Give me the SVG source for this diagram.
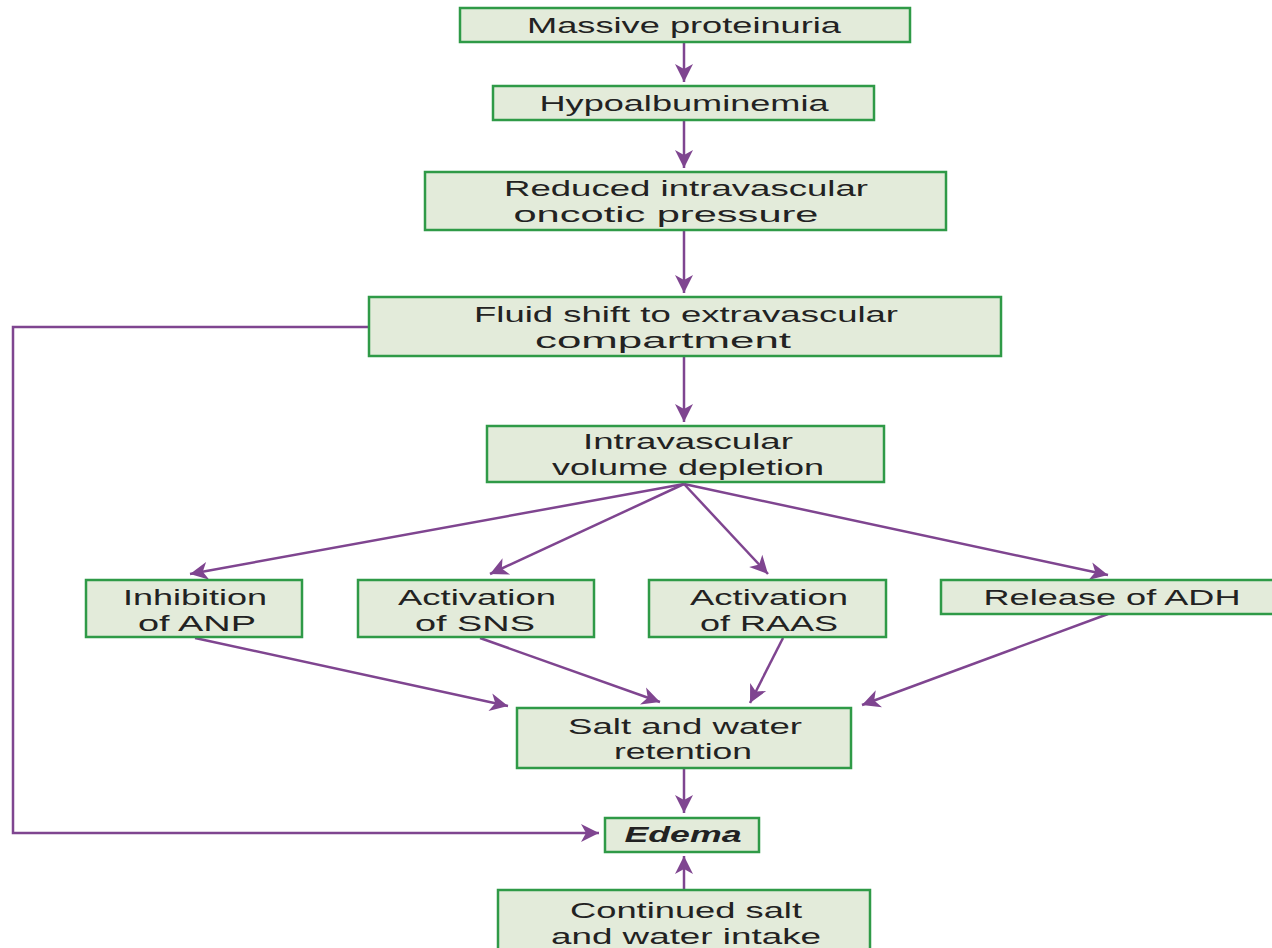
<svg xmlns="http://www.w3.org/2000/svg" width="1272" height="948" viewBox="0 0 1272 948">
<style>
.box{fill:#e3ebda;stroke:#2f9a47;stroke-width:2.5}
.t{font-family:"Liberation Sans",Arial,sans-serif;font-size:22px;fill:#222;text-anchor:middle}
.c{fill:none;stroke:#7f4590;stroke-width:2.5}
</style>
<defs>
<marker id="ah" markerUnits="userSpaceOnUse" markerWidth="22" markerHeight="22" viewBox="0 0 22 22" refX="20" refY="11" orient="auto">
<path d="M2,2 L20,11 L2,20 L7,11 z" fill="#7f4590"/>
</marker>
</defs>
<rect width="1272" height="948" fill="#fff"/>
<g id="connectors">
<line class="c" x1="684" y1="42" x2="684" y2="82" marker-end="url(#ah)"/>
<line class="c" x1="684" y1="120" x2="684" y2="168" marker-end="url(#ah)"/>
<line class="c" x1="684" y1="230" x2="684" y2="293" marker-end="url(#ah)"/>
<line class="c" x1="684" y1="356" x2="684" y2="422" marker-end="url(#ah)"/>
<polyline class="c" points="369,327 13,327 13,833 599,833" marker-end="url(#ah)"/>
<line class="c" x1="684" y1="484" x2="190" y2="574" marker-end="url(#ah)"/>
<line class="c" x1="684" y1="484" x2="490" y2="574" marker-end="url(#ah)"/>
<line class="c" x1="684" y1="484" x2="768" y2="574" marker-end="url(#ah)"/>
<line class="c" x1="684" y1="484" x2="1108" y2="575" marker-end="url(#ah)"/>
<line class="c" x1="195" y1="638" x2="508" y2="706" marker-end="url(#ah)"/>
<line class="c" x1="480" y1="638" x2="660" y2="702" marker-end="url(#ah)"/>
<line class="c" x1="783" y1="638" x2="750" y2="703" marker-end="url(#ah)"/>
<line class="c" x1="1108" y1="614" x2="862" y2="705" marker-end="url(#ah)"/>
<line class="c" x1="684" y1="768" x2="684" y2="813" marker-end="url(#ah)"/>
<line class="c" x1="684" y1="890" x2="684" y2="856" marker-end="url(#ah)"/>
</g>
<g id="n1"><rect class="box" x="460" y="8" width="450" height="34"/><text class="t" x="684" y="33" textLength="314" lengthAdjust="spacingAndGlyphs">Massive proteinuria</text></g>
<g id="n2"><rect class="box" x="493" y="86" width="381" height="34"/><text class="t" x="684" y="111" textLength="289" lengthAdjust="spacingAndGlyphs">Hypoalbuminemia</text></g>
<g id="n3"><rect class="box" x="425" y="172" width="521" height="58"/><text class="t" x="686" y="196" textLength="364" lengthAdjust="spacingAndGlyphs">Reduced intravascular</text><text class="t" x="666" y="222" textLength="305" lengthAdjust="spacingAndGlyphs">oncotic pressure</text></g>
<g id="n4"><rect class="box" x="369" y="297" width="632" height="59"/><text class="t" x="686" y="322" textLength="424" lengthAdjust="spacingAndGlyphs">Fluid shift to extravascular</text><text class="t" x="663" y="348" textLength="256" lengthAdjust="spacingAndGlyphs">compartment</text></g>
<g id="n5"><rect class="box" x="487" y="426" width="397" height="56"/><text class="t" x="688" y="449" textLength="210" lengthAdjust="spacingAndGlyphs">Intravascular</text><text class="t" x="688" y="475" textLength="272" lengthAdjust="spacingAndGlyphs">volume depletion</text></g>
<g id="n6"><rect class="box" x="86" y="580" width="216" height="57"/><text class="t" x="195" y="605" textLength="144" lengthAdjust="spacingAndGlyphs">Inhibition</text><text class="t" x="197" y="631" textLength="118" lengthAdjust="spacingAndGlyphs">of ANP</text></g>
<g id="n7"><rect class="box" x="358" y="580" width="236" height="57"/><text class="t" x="477" y="605" textLength="158" lengthAdjust="spacingAndGlyphs">Activation</text><text class="t" x="475" y="631" textLength="120" lengthAdjust="spacingAndGlyphs">of SNS</text></g>
<g id="n8"><rect class="box" x="649" y="580" width="237" height="57"/><text class="t" x="769" y="605" textLength="158" lengthAdjust="spacingAndGlyphs">Activation</text><text class="t" x="769" y="631" textLength="138" lengthAdjust="spacingAndGlyphs">of RAAS</text></g>
<g id="n9"><rect class="box" x="941" y="580" width="335" height="34"/><text class="t" x="1112" y="605" textLength="257" lengthAdjust="spacingAndGlyphs">Release of ADH</text></g>
<g id="n10"><rect class="box" x="517" y="708" width="334" height="60"/><text class="t" x="685" y="734" textLength="234" lengthAdjust="spacingAndGlyphs">Salt and water</text><text class="t" x="683" y="759" textLength="138" lengthAdjust="spacingAndGlyphs">retention</text></g>
<g id="n11"><rect class="box" x="605" y="818" width="154" height="34"/><text class="t" x="683" y="842" textLength="117" lengthAdjust="spacingAndGlyphs" font-weight="bold" font-style="italic">Edema</text></g>
<g id="n12"><rect class="box" x="498" y="890" width="372" height="64"/><text class="t" x="686" y="918" textLength="232" lengthAdjust="spacingAndGlyphs">Continued salt</text><text class="t" x="686" y="944" textLength="270" lengthAdjust="spacingAndGlyphs">and water intake</text></g>
</svg>
